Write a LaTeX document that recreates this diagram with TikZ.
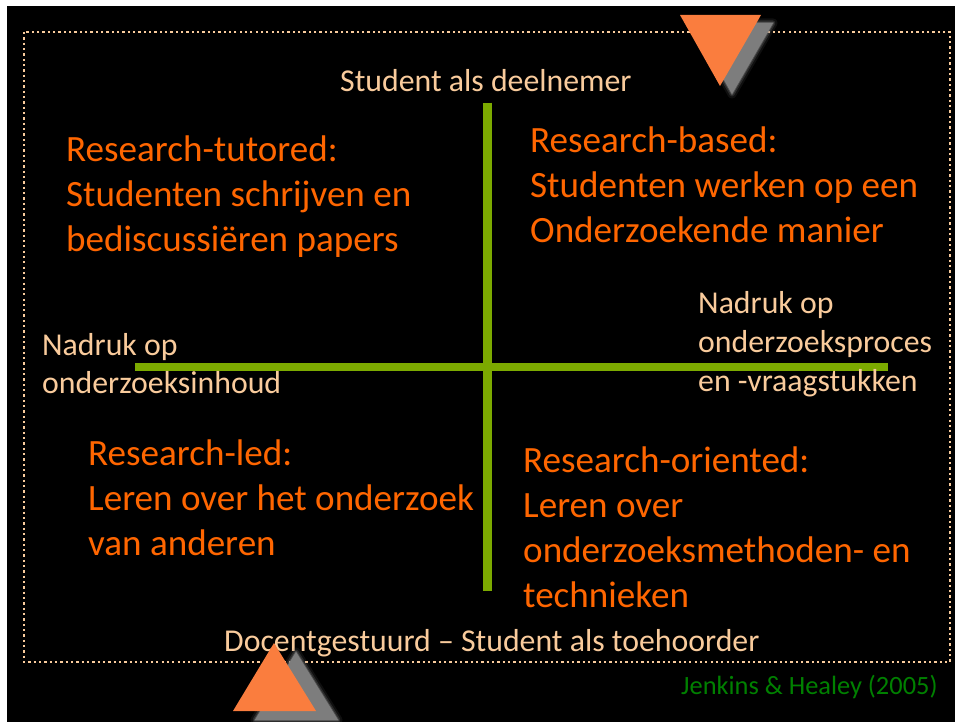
\documentclass[tikz,border=0pt]{standalone}
\usepackage{fontspec}
\setmainfont{Carlito}
\definecolor{peach}{RGB}{249,203,156}
\definecolor{orangetxt}{RGB}{255,102,0}
\definecolor{axisgreen}{RGB}{124,170,0}
\definecolor{triorange}{RGB}{250,125,62}
\definecolor{citegreen}{RGB}{0,128,0}
\definecolor{shadowgray}{RGB}{125,125,125}
\tikzset{
  big/.style={anchor=base west, inner sep=0pt, text=orangetxt, font=\fontsize{37.1}{45}\selectfont},
  small/.style={anchor=base west, inner sep=0pt, text=peach, font=\fontsize{31.8}{38}\selectfont},
  cite/.style={anchor=base west, inner sep=0pt, text=citegreen, font=\fontsize{26.4}{29}\selectfont},
  axis/.style={draw=axisgreen, line width=8.3pt},
  frame/.style={draw=peach, line width=2.3pt, dash pattern=on 2.3pt off 3.03pt},
  tri/.style={fill=triorange},
}
\newcommand{\softshadow}[1]{%
  \fill[shadowgray, opacity=0.12, draw=shadowgray, line width=9pt, line join=round] #1;
  \fill[shadowgray, opacity=0.25, draw=shadowgray, line width=5pt, line join=round] #1;
  \fill[shadowgray, opacity=0.45, draw=shadowgray, line width=2pt, line join=round] #1;
  \fill[shadowgray] #1;
}
\begin{document}
\begin{tikzpicture}[x=1pt,y=-1pt]
\useasboundingbox (0,0) rectangle (955,722);
\clip (0,0) rectangle (955,722);
\fill[white] (0,0) rectangle (955,722);
\fill[black] (7,6) rectangle (955,722);
% dotted frame
\draw[frame] (24,32) rectangle (950,662);
% axes
\coordinate (vtop) at (487.5,102.7);
\coordinate (vbot) at (487.5,590.7);
\coordinate (hl) at (135,367);
\coordinate (hr) at (888,367);
\draw[axis] (hl) -- (hr);
\draw[axis] (vtop) -- (vbot);
% small labels
\node[small] (top) at (340,91.5) {Student als deelnemer};
\node[small] (l1) at (42,355.5) {Nadruk op};
\node[small] (l2) at (42,393.5) {onderzoeksinhoud};
\node[small] (r1) at (698,313.5) {Nadruk op};
\node[small] (r2) at (698,352.5) {onderzoeksproces};
\node[small] (r3) at (698,391.5) {en -vraagstukken};
\node[small] (bot) at (224,651.5) {Docentgestuurd – Student als toehoorder};
% quadrant texts
\node[big] (tl1) at (66,161.5) {Research-tutored:};
\node[big] (tl2) at (66,206.5) {Studenten schrijven en};
\node[big] (tl3) at (66,251.5) {bediscussiëren papers};
\node[big] (tr1) at (530,152.5) {Research-based:};
\node[big] (tr2) at (530,197.5) {Studenten werken op een};
\node[big] (tr3) at (530,242.5) {Onderzoekende manier};
\node[big] (bl1) at (88,465.5) {Research-led:};
\node[big] (bl2) at (88,510.5) {Leren over het onderzoek};
\node[big] (bl3) at (88,555.5) {van anderen};
\node[big] (br1) at (523,472.5) {Research-oriented:};
\node[big] (br2) at (523,517.5) {Leren over};
\node[big] (br3) at (523,562.5) {onderzoeksmethoden- en};
\node[big] (br4) at (523,607.5) {technieken};
% citation
\node[cite] (cite) at (681,694) {Jenkins \& Healey (2005)};
% triangles with shadows
\softshadow{(692,23) -- (773,23) -- (732,94) -- cycle}
\fill[tri] (680,15) -- (761,15) -- (720,86) -- cycle;
\softshadow{(296,652) -- (255,720) -- (338,720) -- cycle}
\fill[tri] (274,643) -- (233,711) -- (316,711) -- cycle;
\end{tikzpicture}
\end{document}
